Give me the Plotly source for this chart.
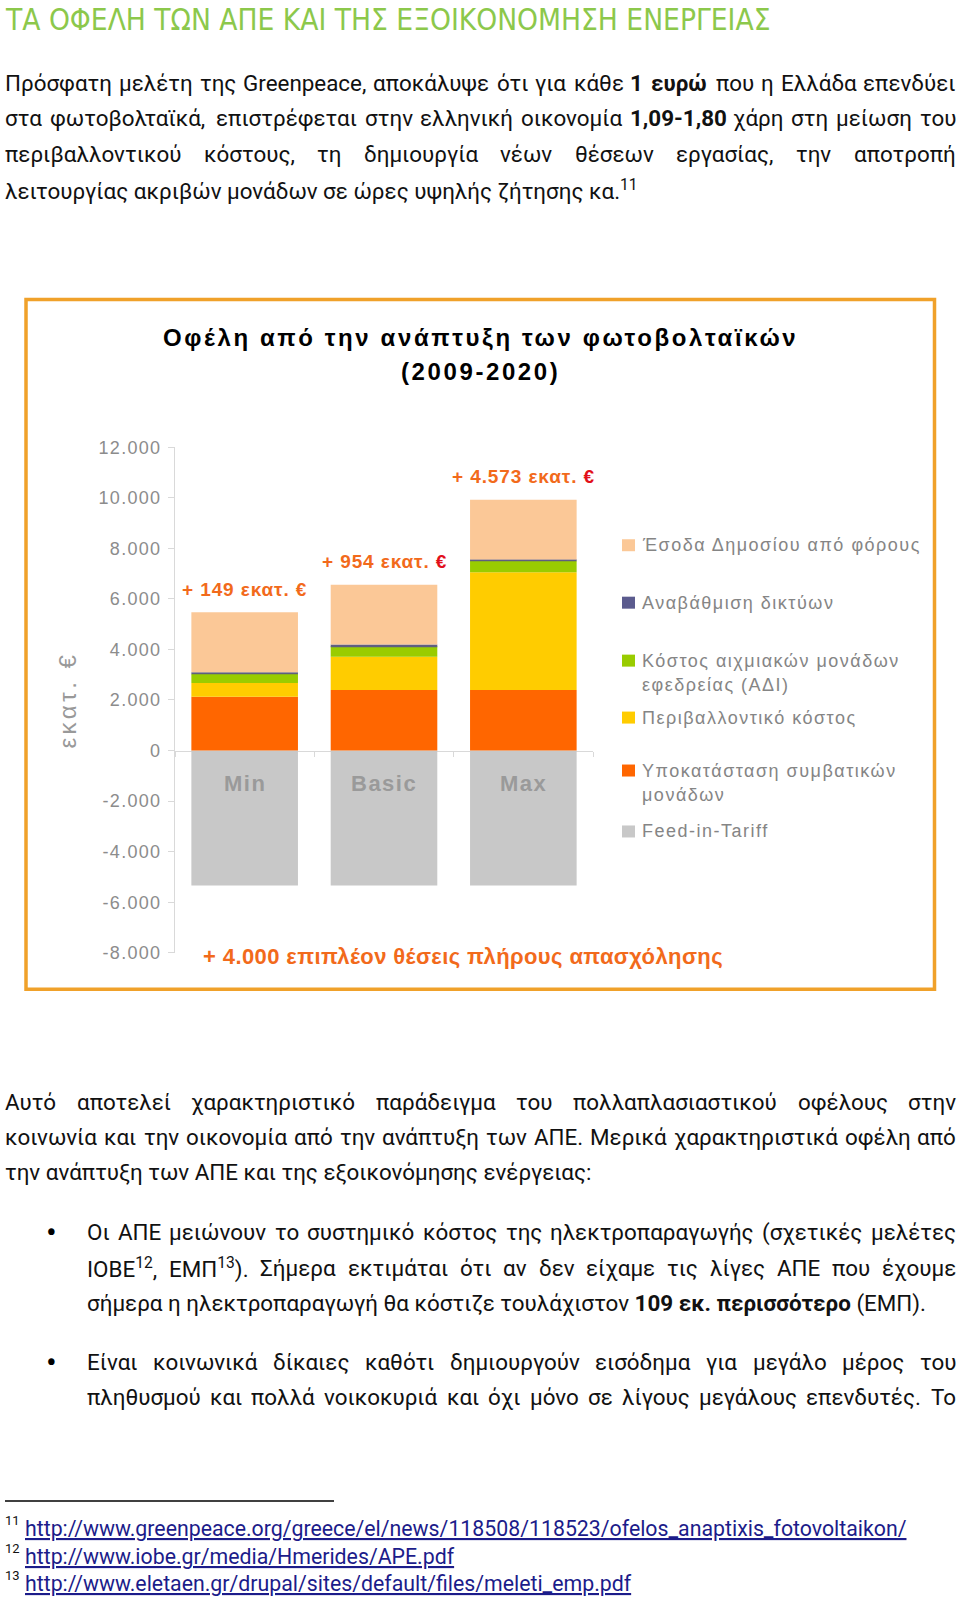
import os
import re
import struct
import subprocess
import plotly.graph_objects as go

W, H = 960, 1603

# ---------------- data ----------------
scenarios = ["Min", "Basic", "Max"]
feed_in_tariff = [-5340, -5340, -5340]
conventional_replacement = [2130, 2400, 2400]
environmental_cost = [545, 1315, 4650]
peak_reserve_cost = [355, 410, 460]
grid_upgrade = [70, 70, 50]
tax_revenue = [2366, 2366, 2361]
series_names = [
    "Feed-in-Tariff",
    "Υποκατάσταση συμβατικών<br>μονάδων",
    "Περιβαλλοντικό κόστος",
    "Κόστος αιχμιακών μονάδων<br>εφεδρείας (ΑΔΙ)",
    "Αναβάθμιση δικτύων",
    "Έσοδα Δημοσίου από φόρους",
]
net_benefit_labels = ["149", "954", "4.573"]
y_tick_values = [-8000, -6000, -4000, -2000, 0, 2000, 4000, 6000, 8000, 10000, 12000]
y_tick_labels = ["-8.000", "-6.000", "-4.000", "-2.000", "0", "2.000", "4.000",
                 "6.000", "8.000", "10.000", "12.000"]
y_axis_title = "εκατ. €"
chart_title = ["Οφέλη από την ανάπτυξη των φωτοβολταϊκών", "(2009-2020)"]
jobs_note = "+ 4.000 επιπλέον θέσεις πλήρους απασχόλησης"

heading = "ΤΑ ΟΦΕΛΗ ΤΩΝ ΑΠΕ ΚΑΙ ΤΗΣ ΕΞΟΙΚΟΝΟΜΗΣΗ ΕΝΕΡΓΕΙΑΣ"
para1 = [
    ("Πρόσφατη μελέτη της Greenpeace, αποκάλυψε ότι για κάθε <b>1</b> <b>ευρώ</b> που η Ελλάδα επενδύει", True),
    ("στα φωτοβολταϊκά, επιστρέφεται στην ελληνική οικονομία <b>1,09-1,80</b> χάρη στη μείωση του", True),
    ("περιβαλλοντικού κόστους, τη δημιουργία νέων θέσεων εργασίας, την αποτροπή", True),
    ("λειτουργίας ακριβών μονάδων σε ώρες υψηλής ζήτησης κα.<sup>11</sup>", False),
]
para2 = [
    ("Αυτό αποτελεί χαρακτηριστικό παράδειγμα του πολλαπλασιαστικού οφέλους στην", True),
    ("κοινωνία και την οικονομία από την ανάπτυξη των ΑΠΕ. Μερικά χαρακτηριστικά οφέλη από", True),
    ("την ανάπτυξη των ΑΠΕ και της εξοικονόμησης ενέργειας:", False),
]
bullet1 = [
    ("Οι ΑΠΕ μειώνουν το συστημικό κόστος της ηλεκτροπαραγωγής (σχετικές μελέτες", True),
    ("ΙΟΒΕ<sup>12</sup>, ΕΜΠ<sup>13</sup>). Σήμερα εκτιμάται ότι αν δεν είχαμε τις λίγες ΑΠΕ που έχουμε", True),
    ("σήμερα η ηλεκτροπαραγωγή θα κόστιζε τουλάχιστον <b>109</b> <b>εκ.</b> <b>περισσότερο</b> (ΕΜΠ).", False),
]
bullet2 = [
    ("Είναι κοινωνικά δίκαιες καθότι δημιουργούν εισόδημα για μεγάλο μέρος του", True),
    ("πληθυσμού και πολλά νοικοκυριά και όχι μόνο σε λίγους μεγάλους επενδυτές. Το", True),
]
footnote_numbers = ["11", "12", "13"]
footnote_urls = [
    "http://www.greenpeace.org/greece/el/news/118508/118523/ofelos_anaptixis_fotovoltaikon/",
    "http://www.iobe.gr/media/Hmerides/APE.pdf",
    "http://www.eletaen.gr/drupal/sites/default/files/meleti_emp.pdf",
]

# ---------------- styles ----------------
series_colors = ["#C8C8C8", "#FF6600", "#FFCC00", "#99CC00", "#5F5F80", "#FBC897"]
legend_square_colors = ["#C8C8C8", "#FF6600", "#FFCC00", "#99CC00", "#5B5B8E", "#FBC897"]
BODY = "Roboto, 'Noto Sans', sans-serif"
NARROWF = "'Liberation Sans Narrow', 'DejaVu Sans Condensed', Roboto, sans-serif"
ARIAL = "'Liberation Sans', Arial, sans-serif"
ORANGE = "#F26A1B"
EURO_RED = "#E2101A"
GRAY_TXT = "#8C8C8C"
BODY_SIZE = 22.4

# page pixel -> paper fraction (the rendered paper spans ~8.8 .. 1593 px vertically)
TOP_OFF, PAPER_H = 8.8, 1584.4


def X(px):
    return px / W


def Y(py):
    return 1 - (py - TOP_OFF) / PAPER_H


# ---------- font metrics (for justified body lines) ----------
def find_font(query, must):
    try:
        p = subprocess.run(["fc-match", "-f", "%{file}", query], capture_output=True, text=True,
                           timeout=10).stdout.strip()
        if p and must.lower() in os.path.basename(p).lower() and os.path.exists(p):
            return p
    except Exception:
        pass
    return None


class Metrics:
    def __init__(self, path):
        data = open(path, "rb").read()
        base = 0
        if data[:4] == b"ttcf":
            base = struct.unpack(">I", data[12:16])[0]
        num = struct.unpack(">H", data[base + 4:base + 6])[0]
        tabs = {}
        for i in range(num):
            tag, _, off, ln = struct.unpack(">4sIII", data[base + 12 + 16 * i:base + 28 + 16 * i])
            tabs[tag.decode("latin1")] = off
        self.d = data
        self.upem = struct.unpack(">H", data[tabs["head"] + 18:tabs["head"] + 20])[0]
        self.nh = struct.unpack(">H", data[tabs["hhea"] + 34:tabs["hhea"] + 36])[0]
        self.hmtx = tabs["hmtx"]
        c = tabs["cmap"]
        n = struct.unpack(">H", data[c + 2:c + 4])[0]
        self.sub = None
        for i in range(n):
            pid, eid, off = struct.unpack(">HHI", data[c + 4 + 8 * i:c + 12 + 8 * i])
            fmt = struct.unpack(">H", data[c + off:c + off + 2])[0]
            if fmt == 12:
                self.sub = (12, c + off)
                break
            if fmt == 4 and self.sub is None:
                self.sub = (4, c + off)
        self.cache = {}

    def glyph(self, ch):
        cp = ord(ch)
        d = self.d
        fmt, o = self.sub
        if fmt == 12:
            ng = struct.unpack(">I", d[o + 12:o + 16])[0]
            for k in range(ng):
                sc, ec, sg = struct.unpack(">III", d[o + 16 + 12 * k:o + 28 + 12 * k])
                if sc <= cp <= ec:
                    return sg + cp - sc
            return 0
        seg = struct.unpack(">H", d[o + 6:o + 8])[0] // 2
        for s in range(seg):
            end = struct.unpack(">H", d[o + 14 + 2 * s:o + 16 + 2 * s])[0]
            if cp <= end:
                start = struct.unpack(">H", d[o + 16 + 2 * seg + 2 * s:o + 18 + 2 * seg + 2 * s])[0]
                if cp < start:
                    return 0
                delta = struct.unpack(">h", d[o + 16 + 4 * seg + 2 * s:o + 18 + 4 * seg + 2 * s])[0]
                rpos = o + 16 + 6 * seg + 2 * s
                roff = struct.unpack(">H", d[rpos:rpos + 2])[0]
                if roff == 0:
                    return (cp + delta) & 0xFFFF
                addr = rpos + roff + 2 * (cp - start)
                g = struct.unpack(">H", d[addr:addr + 2])[0]
                return (g + delta) & 0xFFFF if g else 0
        return 0

    def width(self, text, size):
        tot = 0
        for ch in text:
            if ch not in self.cache:
                g = self.glyph(ch)
                gi = min(g, self.nh - 1)
                self.cache[ch] = struct.unpack(">H", self.d[self.hmtx + 4 * gi:self.hmtx + 4 * gi + 2])[0]
            tot += self.cache[ch]
        return tot / self.upem * size


try:
    _reg = find_font("Roboto:style=Regular", "roboto")
    _bold = find_font("Roboto:style=Bold", "roboto")
    M_REG = Metrics(_reg) if _reg else None
    M_BOLD = Metrics(_bold) if (_bold and _bold != _reg) else None
except Exception:
    M_REG = M_BOLD = None

CW = {}
for chars, w in [("iíιίϊΐlj", 0.26), (".,:;!|'", 0.24), ("()", 0.34), ("-", 0.28), ("/", 0.41),
                 ("frt", 0.34), ("mΜM", 0.88), ("wW", 0.75), ("ωώ", 0.82), ("φψ", 0.71),
                 ("π", 0.61), ("γχν", 0.49), ("ζξ", 0.47), ("λκ", 0.51), ("ς", 0.51),
                 ("Ι", 0.28), ("0123456789", 0.56), (" ", 0.25)]:
    for c in chars:
        CW[c] = w


def plain_width(s, size, bold=False):
    if M_REG is not None:
        if bold:
            return M_BOLD.width(s, size) if M_BOLD else M_REG.width(s, size) * 1.05
        return M_REG.width(s, size)
    w = sum(CW.get(c, 0.67 if c.isupper() else 0.56) for c in s) * size
    return w * (1.05 if bold else 1)


def est_width(word, size):
    total = 0.0
    for part in re.split(r"(<sup>.*?</sup>|<b>.*?</b>)", word):
        if not part:
            continue
        if part.startswith("<sup>"):
            total += plain_width(part[5:-6], size * 0.7)
        elif part.startswith("<b>"):
            total += plain_width(part[3:-4], size, bold=True)
        else:
            total += plain_width(part, size)
    return total


annotations = []
shapes = []


def add_text(text, x, y, size, color="#111111", family=BODY, xanchor="left", weight=None, **kw):
    font = dict(size=size, color=color, family=family)
    if weight:
        font["weight"] = weight
    annotations.append(dict(text=text, x=X(x), y=Y(y), xref="paper", yref="paper",
                            xanchor=xanchor, yanchor="middle", showarrow=False,
                            borderpad=0, borderwidth=0, font=font, **kw))


def text_line(line, justified, y, x0, x1=956, size=BODY_SIZE):
    if not justified:
        add_text(line, x0, y, size)
        return
    words = line.split(" ")
    widths = [est_width(w, size) for w in words]
    gap = (x1 - x0 - sum(widths)) / (len(words) - 1)
    pos = x0
    for i, (w, wd) in enumerate(zip(words, widths)):
        if i == len(words) - 1:
            add_text(w, x1, y, size, xanchor="right")
        else:
            add_text(w, pos, y, size, xanchor="left")
        pos += wd + gap


# heading
add_text(heading, 5, 19, 29.6, color="#8CC84B", family=NARROWF)

for (line, j), y in zip(para1, [81.5, 117.3, 153.1, 188.9]):
    text_line(line, j, y, 5)
for (line, j), y in zip(para2, [1101.5, 1137, 1172]):
    text_line(line, j, y, 5)
for k, ((line, j), y) in enumerate(zip(bullet1, [1232, 1267.5, 1303])):
    if k == 0:
        add_text("•", 51, y, 32, xanchor="center", color="#000000")
    text_line(line, j, y, 87)
for k, ((line, j), y) in enumerate(zip(bullet2, [1362, 1397.5])):
    if k == 0:
        add_text("•", 51, y, 32, xanchor="center", color="#000000")
    text_line(line, j, y, 87)

# footnotes
shapes.append(dict(type="line", xref="paper", yref="paper", x0=X(5), x1=X(334), y0=Y(1501), y1=Y(1501),
                   line=dict(color="#000000", width=1.5)))
for num, url, y in zip(footnote_numbers, footnote_urls, [1529, 1556.5, 1584]):
    add_text(num, 5, y - 8, 13)
    add_text(url, 24.5, y, 21.3, color="#1C1C8A")
    annotations[-1]["font"]["lineposition"] = "under"

# ---------------- chart ----------------
fig = go.Figure()
series_values = [feed_in_tariff, conventional_replacement, environmental_cost,
                 peak_reserve_cost, grid_upgrade, tax_revenue]
for name, vals, col in zip(series_names, series_values, series_colors):
    fig.add_trace(go.Bar(x=scenarios, y=vals, name=name.replace("<br>", " "),
                         marker=dict(color=col, line=dict(width=0)), showlegend=False))

# frame
shapes.append(dict(type="rect", xref="paper", yref="paper", x0=X(26), x1=X(934.5), y0=Y(989), y1=Y(298.5),
                   line=dict(color="#F0A12A", width=3.5), layer="below"))

# chart title
for t, y in zip(chart_title, [337, 371]):
    add_text("<span style='letter-spacing:2.6px'>%s</span>" % t, 480, y, 24, color="#000000",
             family=ARIAL, xanchor="center", weight=700)

# y-axis title
annotations.append(dict(text="<span style='letter-spacing:3.5px'>%s</span>" % y_axis_title,
                        x=X(68), y=Y(700), xref="paper", yref="paper", textangle=-90,
                        xanchor="center", yanchor="middle", showarrow=False,
                        font=dict(size=24, color="#999999", family=ARIAL)))

# category labels inside the Feed-in-Tariff bars (category index on the x axis)
for i, s in enumerate(scenarios):
    annotations.append(dict(text="<span style='letter-spacing:1.5px'>%s</span>" % s, x=i, y=-1300,
                            xref="x", yref="y", showarrow=False, xanchor="center", yanchor="middle",
                            font=dict(size=22, color="#9A9A9A", family=ARIAL, weight=700)))

# net-benefit labels above bars
totals = [a + b + c + d + e for a, b, c, d, e in zip(conventional_replacement, environmental_cost,
                                                     peak_reserve_cost, grid_upgrade, tax_revenue)]
euro_cols = [ORANGE, EURO_RED, EURO_RED]
for i, (lab, tot, ec) in enumerate(zip(net_benefit_labels, totals, euro_cols)):
    annotations.append(dict(text="<span style='letter-spacing:0.9px'>+ %s εκατ. <span style='color:%s'>€</span></span>" % (lab, ec),
                            x=i, y=tot + 920, xref="x", yref="y", showarrow=False,
                            xanchor="center", yanchor="middle",
                            font=dict(size=19, color=ORANGE, family=ARIAL, weight=700)))

# jobs note
add_text("<span style='letter-spacing:0.4px'>%s</span>" % jobs_note, 203, 956, 22, color=ORANGE,
         family=ARIAL, weight=700)

# legend (top to bottom)
legend_rows_y = [544.5, 602, 660, 717, 770, 831]
for name, col, y in zip(series_names[::-1], legend_square_colors[::-1], legend_rows_y):
    shapes.append(dict(type="rect", xref="paper", yref="paper", x0=X(622), x1=X(635),
                       y0=Y(y + 6), y1=Y(y - 6), fillcolor=col, line=dict(width=0)))
    for k, part in enumerate(name.split("<br>")):
        add_text("<span style='letter-spacing:1.5px'>%s</span>" % part, 641.5, y + 24 * k, 18,
                 color="#858585", family=ARIAL)

y_top_px, y_bot_px = 446.4, 952.4
fig.update_layout(
    width=W, height=H, autosize=False,
    margin=dict(l=0, r=0, t=0, b=0, pad=0),
    paper_bgcolor="white", plot_bgcolor="rgba(0,0,0,0)",
    barmode="relative", bargap=0.235,
    showlegend=False,
    annotations=annotations, shapes=shapes,
    xaxis=dict(domain=[X(175), X(593)], type="category", range=[-0.5, 2.5],
               anchor="free", position=Y(750), showline=True, linecolor="#D9D9D9", linewidth=1,
               ticks="outside", tickson="boundaries", ticklen=5, tickcolor="#D9D9D9",
               showticklabels=False, showgrid=False, zeroline=False, layer="below traces",
               fixedrange=True),
    yaxis=dict(domain=[Y(y_bot_px), Y(y_top_px)], range=[-8000, 12000],
               tickvals=y_tick_values,
               ticktext=["<span style='letter-spacing:1.3px'>%s</span>" % t for t in y_tick_labels],
               showline=True, linecolor="#D9D9D9", linewidth=1, ticks="outside", ticklen=6,
               tickcolor="#D9D9D9", showgrid=False, zeroline=False,
               tickfont=dict(size=18, color=GRAY_TXT, family=ARIAL), ticklabelstandoff=3,
               fixedrange=True),
)

fig.write_html("out.html", config={"displayModeBar": False},
               post_script="document.body.style.margin='0px';document.body.style.overflow='hidden';")
